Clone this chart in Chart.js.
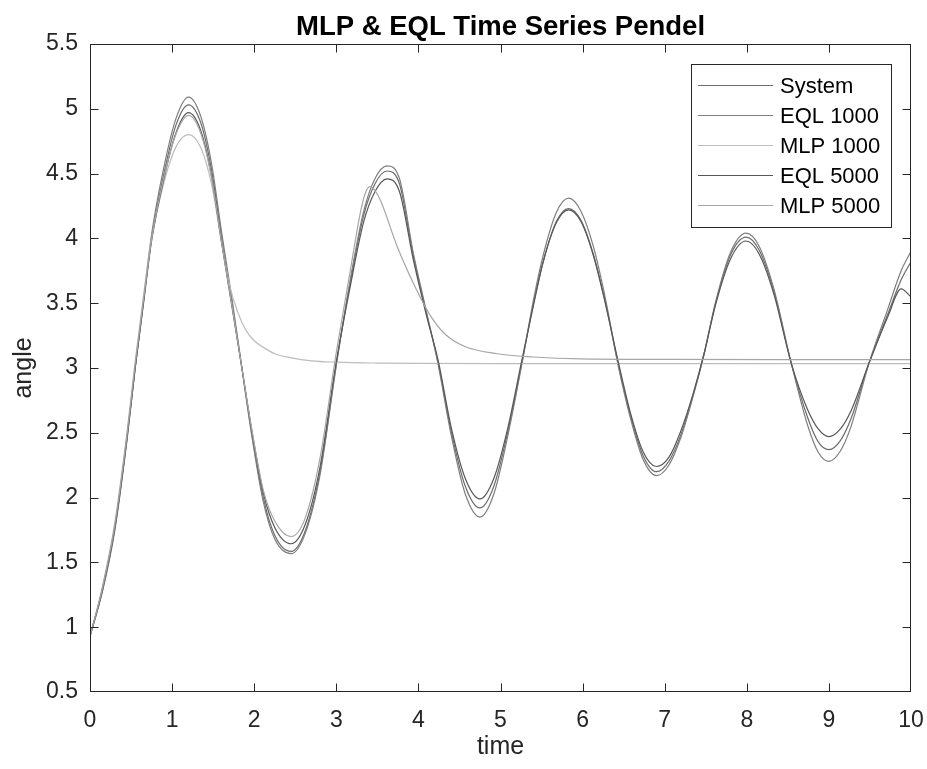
<!DOCTYPE html>
<html>
<head>
<meta charset="utf-8">
<script src="https://cdn.jsdelivr.net/npm/chart.js@4/dist/chart.umd.min.js"></script>
<style>
  html, body { margin: 0; padding: 0; background: #ffffff; }
  #wrap { width: 927px; height: 769px; }
</style>
</head>
<body>
<div id="wrap"><canvas id="c" width="927" height="769"></canvas></div>
<script>
// ---------- data ----------
const chartTitle = 'MLP & EQL Time Series Pendel';
const xTitle = 'time';
const yTitle = 'angle';
const xTicks = [0, 1, 2, 3, 4, 5, 6, 7, 8, 9, 10];
const yTicks = [0.5, 1, 1.5, 2, 2.5, 3, 3.5, 4, 4.5, 5, 5.5];

const seriesNames = ['System', 'EQL 1000', 'MLP 1000', 'EQL 5000', 'MLP 5000'];

// shared time samples for the oscillating curves
const tOsc = [0,0.15,0.3,0.45,0.55,0.65,0.75,0.9,1.05,1.2,1.35,1.48,1.6,1.73,1.85,1.97,2.11,2.25,2.45,2.62,
  2.8,3.0,3.17,3.33,3.47,3.62,3.77,3.94,4.1,4.24,4.4,4.57,4.75,4.92,5.09,5.26,5.4,5.52,5.68,5.83,
  5.98,6.13,6.28,6.43,6.58,6.74,6.9,7.05,7.2,7.35,7.48,7.62,7.8,7.99,8.15,8.33,8.54,8.74,8.87,9.0,
  9.14,9.27,9.49,9.72,9.88,10];

const systemVals = [0.93,1.28,1.75,2.45,3.00,3.50,4.00,4.50,4.88,5.03,
  4.89,4.53,4.02,3.50,3.00,2.50,2.00,1.71,1.585,1.74,
  2.19,3.03,3.66,4.17,4.42,4.52,4.42,3.86,3.42,3.04,
  2.51,2.09,1.92,2.09,2.51,3.04,3.49,3.82,4.13,4.23,
  4.14,3.88,3.50,3.04,2.64,2.32,2.20,2.28,2.49,2.80,
  3.11,3.50,3.87,4.01,3.91,3.59,3.04,2.62,2.43,2.37,
  2.44,2.61,3.04,3.42,3.68,3.82];

const eql1000Vals = [0.93,1.27,1.74,2.44,3.00,3.52,4.03,4.55,4.93,5.09,
  4.94,4.58,4.06,3.53,3.00,2.48,1.97,1.68,1.567,1.72,
  2.17,3.02,3.68,4.20,4.46,4.56,4.46,3.88,3.43,3.03,
  2.48,2.03,1.85,2.03,2.48,3.03,3.52,3.87,4.20,4.31,
  4.21,3.94,3.53,3.03,2.62,2.29,2.17,2.25,2.47,2.79,
  3.11,3.51,3.89,4.04,3.94,3.61,3.04,2.56,2.35,2.28,
  2.36,2.55,3.04,3.46,3.75,3.90];

const eql5000Vals = [0.93,1.29,1.76,2.46,3.00,3.49,3.98,4.46,4.82,4.97,
  4.83,4.48,3.98,3.47,3.00,2.52,2.04,1.77,1.644,1.79,
  2.23,3.05,3.63,4.12,4.36,4.46,4.36,3.83,3.40,3.06,
  2.54,2.15,1.99,2.15,2.54,3.06,3.48,3.82,4.12,4.22,
  4.13,3.87,3.49,3.06,2.66,2.35,2.24,2.31,2.52,2.81,
  3.11,3.49,3.84,3.98,3.88,3.57,3.04,2.68,2.53,2.47,
  2.53,2.67,3.04,3.40,3.61,3.55];

const tMlp1000 = [0,0.15,0.3,0.45,0.55,0.65,0.75,0.9,1.05,1.2,1.35,1.48,1.6,1.7,1.8,1.9,2.0,2.11,2.25,2.44,2.7,3.0,3.5,4.0,5.0,7.0,10];
const mlp1000Vals = [0.93,1.31,1.80,2.50,3.05,3.55,4.00,4.43,4.71,4.80,4.70,4.42,3.98,3.64,3.43,3.29,3.21,3.16,3.11,3.08,3.055,3.045,3.038,3.035,3.033,3.033,3.033];

const tMlp5000 = [0,0.15,0.3,0.45,0.55,0.65,0.75,0.9,1.05,1.2,1.35,1.48,1.6,1.73,1.85,1.97,2.11,2.25,2.45,2.62,2.8,3.0,
  3.17,3.3,3.36,3.41,3.47,3.54,3.74,3.98,4.15,4.31,4.55,4.96,5.4,5.98,7.0,8.5,10];
const mlp5000Vals = [0.93,1.30,1.78,2.48,3.03,3.52,3.99,4.47,4.81,4.95,4.81,4.47,3.98,3.48,3.00,2.53,2.06,1.82,1.70,1.84,2.30,3.12,
  3.75,4.22,4.36,4.40,4.37,4.29,3.94,3.60,3.40,3.27,3.17,3.11,3.085,3.07,3.066,3.064,3.064];

// ---------- styling ----------
const seriesColors = ['#6c6c6c', '#7e7e7e', '#bdbdbd', '#575757', '#a6a6a6'];
const FONT = '"Liberation Sans", Arial, Helvetica, sans-serif';
const INK = '#262626';

function pts(ts, vs) { return ts.map((t, i) => ({ x: t, y: vs[i] })); }

const seriesData = [
  pts(tOsc, systemVals),
  pts(tOsc, eql1000Vals),
  pts(tMlp1000, mlp1000Vals),
  pts(tOsc, eql5000Vals),
  pts(tMlp5000, mlp5000Vals)
];

const datasets = seriesNames.map((name, i) => ({
  label: name,
  data: seriesData[i],
  borderColor: seriesColors[i],
  backgroundColor: seriesColors[i],
  borderWidth: 1.2,
  pointRadius: 0,
  fill: false,
  cubicInterpolationMode: 'monotone',
  order: seriesNames.length - i
}));

// box, inward ticks, title and legend
const framePlugin = {
  id: 'frame',
  afterDatasetsDraw(chart) {
    const { ctx, chartArea: a, scales } = chart;
    const xs = scales.x, ys = scales.y;
    ctx.save();
    ctx.strokeStyle = INK;
    ctx.lineWidth = 1;
    const L = Math.round(a.left) + 0.5, R = Math.round(a.right) - 0.5;
    const T = Math.round(a.top) + 0.5, B = Math.round(a.bottom) - 0.5;
    ctx.strokeRect(L, T, R - L, B - T);
    ctx.beginPath();
    xTicks.forEach(v => {
      const px = Math.min(R, Math.max(L, Math.round(xs.getPixelForValue(v)) + 0.5));
      ctx.moveTo(px, B); ctx.lineTo(px, B - 8);
      ctx.moveTo(px, T); ctx.lineTo(px, T + 8);
    });
    yTicks.forEach(v => {
      const py = Math.min(B, Math.max(T, Math.round(ys.getPixelForValue(v)) + 0.5));
      ctx.moveTo(L, py); ctx.lineTo(L + 8, py);
      ctx.moveTo(R, py); ctx.lineTo(R - 8, py);
    });
    ctx.stroke();

    // title
    ctx.fillStyle = '#000000';
    ctx.font = 'bold 27.5px ' + FONT;
    ctx.textAlign = 'center';
    ctx.textBaseline = 'alphabetic';
    ctx.fillText(chartTitle, (a.left + a.right) / 2, 35);

    // legend
    const bx = 691.5, by = 64.5, bw = 200, bh = 163;
    ctx.fillStyle = '#ffffff';
    ctx.fillRect(bx, by, bw, bh);
    ctx.strokeStyle = INK;
    ctx.strokeRect(bx, by, bw, bh);
    ctx.font = '22px ' + FONT;
    ctx.textAlign = 'left';
    ctx.textBaseline = 'middle';
    chart.data.datasets.forEach((ds, i) => {
      const y = 85.5 + 30 * i;
      ctx.strokeStyle = ds.borderColor;
      ctx.lineWidth = 1.2;
      ctx.beginPath();
      ctx.moveTo(698, y); ctx.lineTo(773, y);
      ctx.stroke();
      ctx.fillStyle = '#000000';
      ctx.fillText(ds.label, 780, y + 1);
    });
    ctx.restore();
  }
};

new Chart(document.getElementById('c'), {
  type: 'line',
  data: { datasets },
  options: {
    responsive: false,
    animation: false,
    events: [],
    layout: { padding: { top: 44, right: 16, bottom: 0, left: 0 } },
    plugins: { legend: { display: false }, title: { display: false }, tooltip: { enabled: false } },
    scales: {
      x: {
        type: 'linear', min: 0, max: 10,
        grid: { display: false, drawTicks: false },
        border: { display: false },
        afterBuildTicks: s => { s.ticks = xTicks.map(v => ({ value: v })); },
        afterFit: s => { s.height = 77; s.paddingLeft = 0; s.paddingRight = 0; },
        ticks: { color: INK, padding: 15, maxRotation: 0, autoSkip: false,
                 font: { family: FONT, size: 23 }, callback: v => String(v) },
        title: { display: true, text: xTitle, color: INK, padding: { top: 0, bottom: 7 },
                 font: { family: FONT, size: 25 } }
      },
      y: {
        type: 'linear', min: 0.5, max: 5.5,
        grid: { display: false, drawTicks: false },
        border: { display: false },
        afterBuildTicks: s => { s.ticks = yTicks.map(v => ({ value: v })); },
        afterFit: s => { s.width = 90; s.paddingTop = 0; s.paddingBottom = 0; },
        ticks: { color: INK, padding: 12, autoSkip: false,
                 font: { family: FONT, size: 23 }, callback: v => String(v) },
        title: { display: true, text: yTitle, color: INK, padding: { top: 9, bottom: 0 },
                 font: { family: FONT, size: 25 } }
      }
    }
  },
  plugins: [framePlugin]
});
</script>
</body>
</html>
